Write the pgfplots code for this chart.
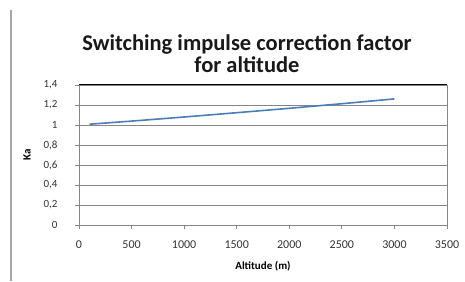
\documentclass[border=0pt]{standalone}
\usepackage{pgfplots}
\pgfplotsset{compat=1.18}
\usepackage{fontspec}
\setmainfont{Carlito}
\definecolor{exblue}{HTML}{4A7EBB}
\definecolor{gridgray}{HTML}{868686}
\begin{document}
\begin{tikzpicture}[x=1pt,y=1pt]
\path[use as bounding box] (0,0) rectangle (465,281);
\draw[line width=2pt, color=gray!70] (11,0) -- (11,271);
\node[font=\fontsize{22.5}{22}\selectfont\bfseries, align=center, color=black!90] at (247,227) {Switching impulse correction factor\\for altitude};
\begin{axis}[
  at={(79pt,56pt)}, anchor=south west,
  scale only axis, width=368pt, height=140pt,
  xmin=0, xmax=3500, ymin=0, ymax=1.4,
  xtick={0,500,...,3500}, ytick={0,0.2,...,1.4},
  /pgf/number format/assume math mode=true,
  tick label style={color=black!80},
  xticklabel style={font=\fontsize{12}{12}\selectfont, yshift=-8pt, /pgf/number format/.cd, fixed, 1000 sep={}},
  yticklabel style={font=\fontsize{11}{11}\selectfont, xshift=-14pt, /pgf/number format/.cd, fixed, precision=1, use comma},
  ymajorgrids, major grid style={gridgray, line width=0.8pt},
  axis line style={gridgray, line width=0.8pt},
  tick style={gridgray, line width=0.8pt},
  tick align=outside, major tick length=4pt,
  xtick pos=bottom, ytick pos=left,
  xlabel={\bfseries Altitude (m)}, ylabel={\bfseries Ka},
  label style={font=\fontsize{11}{11}\selectfont},
  xlabel style={yshift=-6pt},
  ylabel style={yshift=6pt},
]
\addplot[exblue, line width=1.6pt] coordinates {
(100,1.008) (500,1.039) (1000,1.080) (1500,1.123) (2000,1.167) (2500,1.213) (3000,1.261)
};
\draw[black, line width=1pt] (rel axis cs:0,1) -- (rel axis cs:1,1);
\end{axis}
\end{tikzpicture}
\end{document}
